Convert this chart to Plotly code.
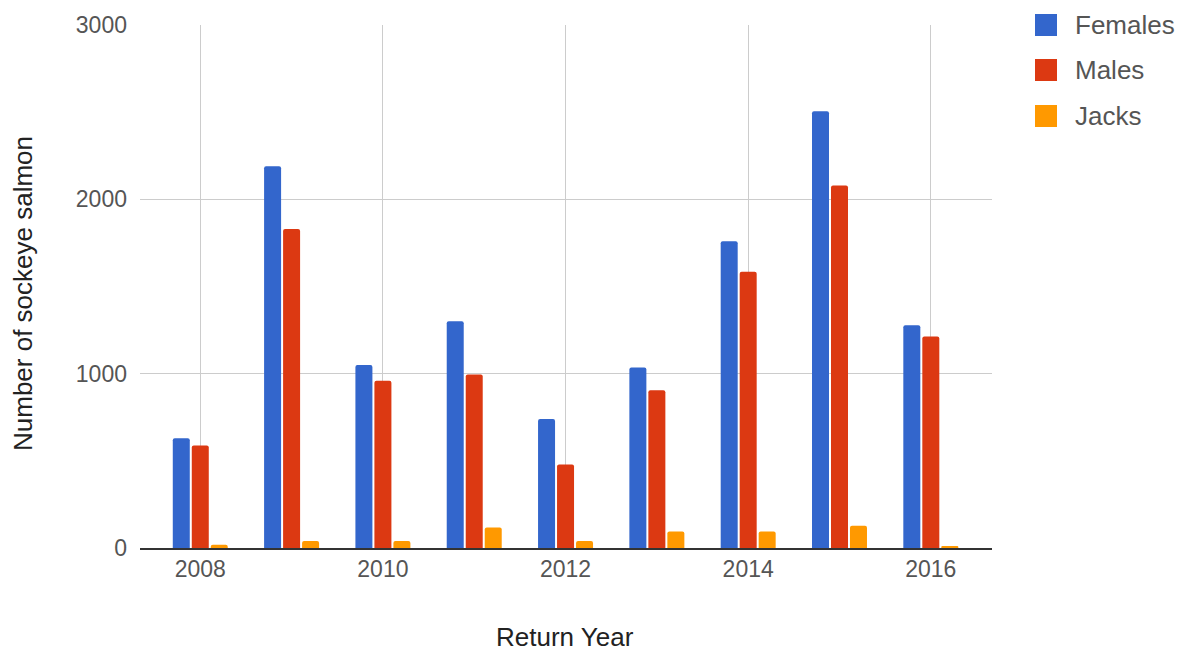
import plotly.graph_objects as go

# Return years and counts of sockeye salmon by group
years = [2008, 2009, 2010, 2011, 2012, 2013, 2014, 2015, 2016]
females = [630, 2190, 1050, 1300, 740, 1035, 1760, 2505, 1278]
males = [588, 1830, 960, 995, 479, 905, 1585, 2080, 1213]
jacks = [18, 40, 40, 118, 40, 95, 95, 127, 9]

series_names = ["Females", "Males", "Jacks"]
series_values = [females, males, jacks]
series_colors = ["#3366CC", "#DC3912", "#FF9900"]

x_tick_values = [2008, 2010, 2012, 2014, 2016]
y_tick_values = [0, 1000, 2000, 3000]

x_title = "Return Year"
y_title = "Number of sockeye salmon"

FONT = "Liberation Sans, Arial, sans-serif"

W, H = 1184, 653
L, R, T, B = 140, 192, 25, 105
pw, ph = W - L - R, H - T - B


def px_x(px):
    """Page pixel column -> paper x coordinate."""
    return (px - L) / pw


def px_y(py):
    """Page pixel row -> paper y coordinate."""
    return (H - B - py) / ph


fig = go.Figure()
for name, vals, color in zip(series_names, series_values, series_colors):
    fig.add_trace(go.Bar(
        x=years, y=vals, name=name,
        marker=dict(color=color, line=dict(width=0), cornerradius=2),
        showlegend=False,
    ))

# Legend: large swatches with labels to the right, one row per series
row_y = [25, 70, 116]
shapes = []
notes = []
for name, color, yc in zip(series_names, series_colors, row_y):
    shapes.append(dict(
        type="rect", xref="paper", yref="paper",
        x0=px_x(1035), x1=px_x(1057),
        y0=px_y(yc + 11), y1=px_y(yc - 11),
        fillcolor=color, line=dict(width=0),
    ))
    notes.append(dict(
        text=name, xref="paper", yref="paper",
        x=px_x(1073), y=px_y(yc),
        xanchor="left", yanchor="middle", showarrow=False,
        font=dict(family=FONT, size=26, color="#555555"),
    ))

# Axis titles
notes.append(dict(
    text=x_title, xref="paper", yref="paper",
    x=px_x(565), y=px_y(637), xanchor="center", yanchor="middle",
    showarrow=False, font=dict(family=FONT, size=26, color="#222222"),
))
notes.append(dict(
    text=y_title, xref="paper", yref="paper", textangle=-90,
    x=px_x(23), y=px_y(294), xanchor="center", yanchor="middle",
    showarrow=False, font=dict(family=FONT, size=26, color="#222222"),
))

fig.update_layout(
    width=W, height=H,
    margin=dict(l=L, r=R, t=T, b=B, pad=0),
    paper_bgcolor="white", plot_bgcolor="white",
    barmode="group", bargap=0.376, bargroupgap=0.105,
    font=dict(family=FONT, size=23, color="#555555"),
    shapes=shapes,
    annotations=notes,
    xaxis=dict(
        range=[2007.34, 2016.67],
        tickvals=x_tick_values, ticktext=[str(v) for v in x_tick_values],
        showgrid=True, gridcolor="#cccccc", gridwidth=1.4,
        showline=True, linecolor="#333333", linewidth=1.5,
        ticks="", tickfont=dict(size=23, color="#555555"),
        zeroline=False, automargin=False,
    ),
    yaxis=dict(
        range=[0, 3000],
        tickvals=y_tick_values,
        showgrid=True, gridcolor="#cccccc", gridwidth=1.4,
        showline=False, zeroline=False,
        ticks="", tickfont=dict(size=23, color="#555555"),
        ticklabelstandoff=12, automargin=False,
    ),
)

fig.write_html("out.html")
